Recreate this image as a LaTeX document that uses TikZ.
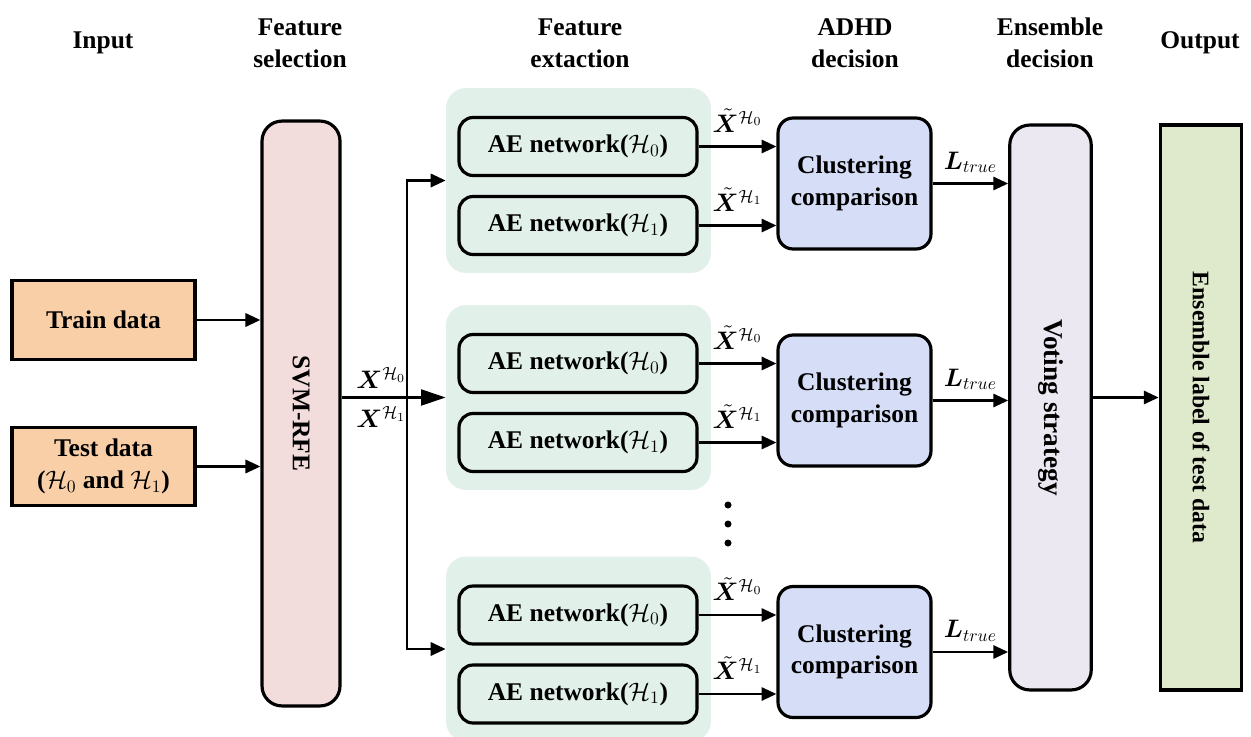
\documentclass[tikz,border=0pt]{standalone}
\usepackage{amsmath, amssymb, bm}
\usepackage{fontspec}
\setmainfont{Liberation Serif}
\usepackage{xcolor}
\usetikzlibrary{arrows.meta, positioning}

\definecolor{inputfill}{HTML}{F9CFA8}
\definecolor{svmfill}{HTML}{F2DCDC}
\definecolor{groupfill}{HTML}{E2F0EA}
\definecolor{clufill}{HTML}{D6DEF7}
\definecolor{votefill}{HTML}{ECE8F2}
\definecolor{outfill}{HTML}{DFE9CB}

\begin{document}
\begin{tikzpicture}[
        x=0.02cm, y=-0.02cm,
        font=\fontsize{14.5}{18}\selectfont\bfseries,
        box/.style={draw, line width=1.8pt, align=center, inner sep=0pt},
        inbox/.style={box, fill=inputfill, minimum width=3.66cm, minimum height=1.57cm},
        tallbox/.style={box, minimum width=1.63cm, minimum height=11.3cm},
        group/.style={fill=groupfill, rounded corners=0.4cm, minimum width=5.3cm, minimum height=3.7cm},
        aebox/.style={box, rounded corners=0.28cm, minimum width=4.76cm, minimum height=1.16cm},
        clubox/.style={box, fill=clufill, rounded corners=0.3cm, minimum width=3.06cm, minimum height=2.62cm},
        arr/.style={line width=1.5pt, -{Triangle[length=8.5pt, width=7.5pt]}},
        bigarr/.style={line width=1.5pt, -{Triangle[length=14pt, width=9pt]}}
    ]
    \useasboundingbox (0,0) rectangle (1251,737);

    % Headers
    \node[align=center] (h_input) at (103,43) {Input};
    \node[align=center] (h_select) at (300,43) {Feature\\selection};
    \node[align=center] (h_extract) at (580,43) {Feature\\extaction};
    \node[align=center] (h_adhd) at (855,43) {ADHD\\decision};
    \node[align=center] (h_ensemble) at (1050,43) {Ensemble\\decision};
    \node[align=center] (h_output) at (1200,43) {Output};

    % Input
    \node[inbox] (train) at (103.5,320) {Train data};
    \node[inbox] (test) at (103.5,466.5) {Test data\\($\mathcal{H}_0$ and $\mathcal{H}_1$)};

    % Feature selection
    \node[box, fill=svmfill, rounded corners=0.4cm, minimum width=1.56cm, minimum height=11.7cm] (svm) at (301,413.5) {};
    \node[rotate=-90] (svm_text) at (svm) {SVM-RFE};
    \draw[arr] (train) -- (train -| svm.west);
    \draw[arr] (test) -- (test -| svm.west);

    % Feature extraction groups
    \foreach \g/\y in {1/180.5, 2/397.5, 3/649} {
        \node[group] (grp\g) at (578.5,\y) {};
        \node[aebox] (ae\g0) at (578,\y-34) {AE network($\mathcal{H}_0$)};
        \node[aebox] (ae\g1) at (578,\y+45) {AE network($\mathcal{H}_1$)};
        \node[clubox] (clu\g) at (854.5,\y+3) {Clustering\\comparison};
        \draw[arr] (ae\g0) -- (ae\g0 -| clu\g.west)
            node[midway, above=4pt] {$\tilde{\bm{X}}^{\mathcal{H}_0}$};
        \draw[arr] (ae\g1) -- (ae\g1 -| clu\g.west)
            node[midway, above=4pt] {$\tilde{\bm{X}}^{\mathcal{H}_1}$};
    }

    % Branches from SVM-RFE
    \coordinate (split) at (407,397.5);
    \draw[bigarr] (svm.east |- grp2) -- (grp2.west)
        node[pos=0.38, above=1pt] {$\bm{X}^{\mathcal{H}_0}$}
        node[pos=0.38, below=1pt] {$\bm{X}^{\mathcal{H}_1}$};
    \draw[arr] (split) |- (grp1.west);
    \draw[arr] (split) |- (grp3.west);

    \foreach \y in {505,524,543}
        \fill (728,\y) circle (0.07cm);

    % Ensemble decision and output
    \node[tallbox, fill=votefill, rounded corners=0.4cm] (vote) at (1050.5,407.5) {};
    \node[rotate=-90, font=\fontsize{15.5}{18}\selectfont\bfseries] (vote_text) at (vote) {Voting strategy};
    \node[tallbox, fill=outfill] (out) at (1201,407.5) {};
    \node[rotate=-90, font=\fontsize{13.5}{16}\selectfont\bfseries] (out_text) at (out) {Ensemble label of test data};

    \foreach \g in {1,2,3}
        \draw[arr] (clu\g) -- (clu\g -| vote.west)
            node[midway, above=2pt] {$\bm{L}_{true}$};
    \draw[arr] (vote.east |- grp2) -- (out.west |- grp2);
\end{tikzpicture}
\end{document}
